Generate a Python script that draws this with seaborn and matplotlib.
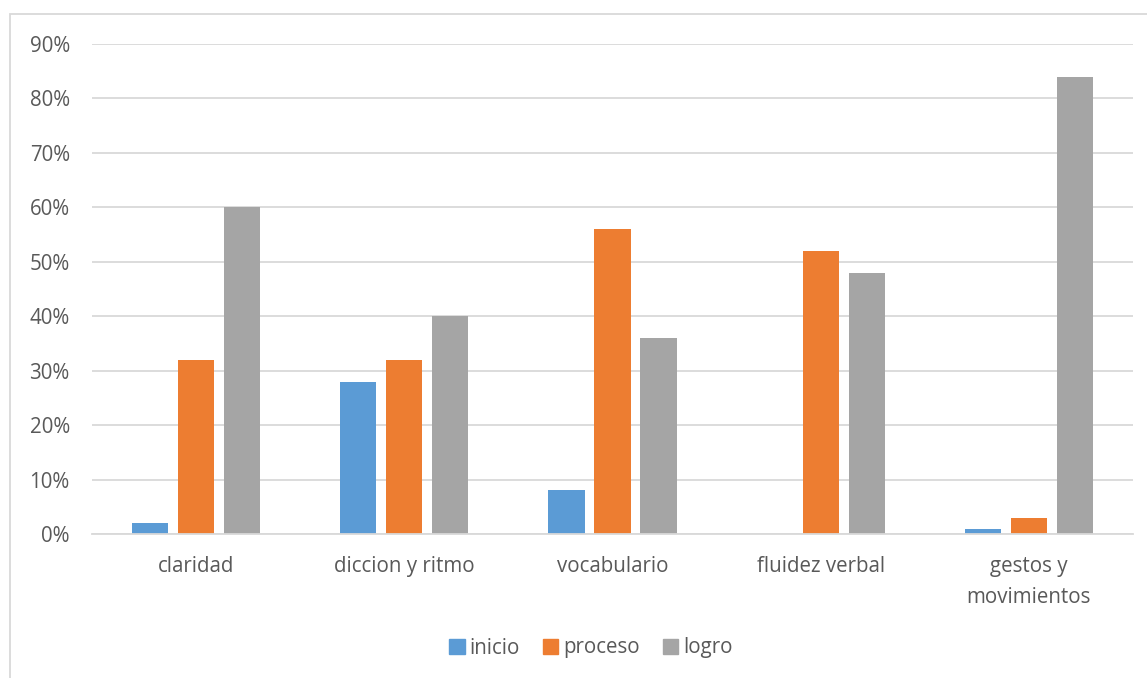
import matplotlib
matplotlib.use("Agg")
import matplotlib.pyplot as plt
import seaborn as sns
import pandas as pd
from matplotlib.patches import Rectangle
from matplotlib.ticker import PercentFormatter

categories = ["claridad", "diccion y ritmo", "vocabulario", "fluidez verbal", "gestos y\nmovimientos"]
series_names = ["inicio", "proceso", "logro"]
inicio = [0.02, 0.28, 0.08, 0.0, 0.01]
proceso = [0.32, 0.32, 0.56, 0.52, 0.03]
logro = [0.60, 0.40, 0.36, 0.48, 0.84]
colors = ["#5B9BD5", "#ED7D31", "#A5A5A5"]

rows = []
for name, vals in zip(series_names, [inicio, proceso, logro]):
    for c, v in zip(categories, vals):
        rows.append({"cat": c, "serie": name, "val": v})
df = pd.DataFrame(rows)

sns.set_theme(style="white")
plt.rcParams['font.family'] = ['Open Sans', 'DejaVu Sans']
text_color = "#595959"
fs = 14.8

fig = plt.figure(figsize=(11.47, 6.78), dpi=100)
ax = fig.add_axes([92/1147, (678-534)/678, (1133-92)/1147, (534-44)/678])

sns.barplot(data=df, x="cat", y="val", hue="serie", order=categories,
            hue_order=series_names, palette=colors, width=0.663, gap=0.217,
            ax=ax, saturation=1, legend=True, linewidth=0, edgecolor="none")

ax.set_ylim(0, 0.9)
ax.set_xlim(-0.5, 4.5)
ax.set_yticks([i/10 for i in range(10)])
ax.yaxis.set_major_formatter(PercentFormatter(1.0, decimals=0))
ax.grid(axis="y", color="#D9D9D9", linewidth=1.3)
ax.set_axisbelow(True)
for s in ["top", "right", "left"]:
    ax.spines[s].set_visible(False)
ax.spines["bottom"].set_color("#D9D9D9")
ax.spines["bottom"].set_linewidth(1.3)
ax.tick_params(axis="both", length=0, labelsize=fs, colors=text_color)
ax.tick_params(axis="y", pad=16)
ax.tick_params(axis="x", pad=16)
for lab in ax.get_xticklabels():
    lab.set_linespacing(1.6)
ax.set_xlabel("")
ax.set_ylabel("")

ax.legend_.remove()
handles = [Rectangle((0, 0), 1, 1, color=c) for c in colors]
fig.legend(handles, series_names, loc="center", bbox_to_anchor=(591/1147, (678-648)/678),
           ncol=3, frameon=False, fontsize=fs, handlelength=0.75, handleheight=0.75,
           handletextpad=0.25, columnspacing=1.1, labelcolor=text_color)

border = Rectangle((10/1147, -0.1), 1.2, (678-14)/678 + 0.1, transform=fig.transFigure,
                   fill=False, edgecolor="#D9D9D9", linewidth=1.3)
fig.patches.append(border)

fig.savefig("out.png", dpi=100, facecolor="white")
